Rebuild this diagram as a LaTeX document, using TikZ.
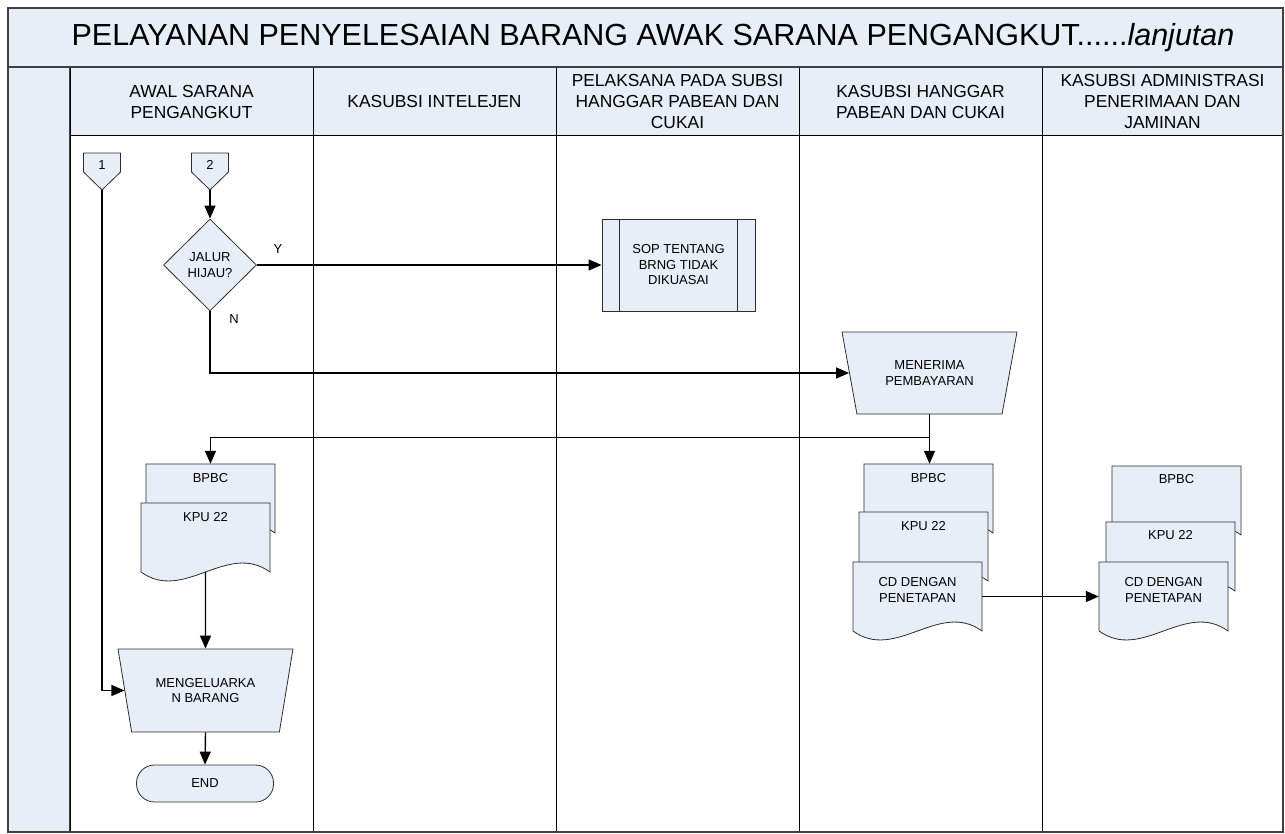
\documentclass[tikz,border=0pt]{standalone}
\usepackage{fontspec}
\setmainfont{Liberation Sans}
\usetikzlibrary{arrows.meta,positioning,shapes.geometric,calc}
\definecolor{SLfill}{RGB}{232,238,247}
\definecolor{SLframe}{RGB}{64,64,64}
\definecolor{SLedge}{RGB}{45,45,45}
\newcommand{\shapefont}{\fontsize{13}{15.5}\selectfont}
\newcommand{\headfont}{\fontsize{17.4}{21}\selectfont}
\newcommand{\titlefont}{\fontsize{30.5}{34}\selectfont}
\tikzset{
  lane/.style={draw=black,line width=0.9pt},
  headcell/.style={draw=black,line width=0.9pt,fill=SLfill},
  headtext/.style={font=\headfont,align=center,inner sep=0pt},
  shapetext/.style={font=\shapefont,align=center,inner sep=0pt},
  decide/.style={diamond,aspect=1,draw=SLedge,line width=0.8pt,fill=SLfill,
                 font=\shapefont,align=center,inner sep=0pt,
                 minimum width=93pt,minimum height=92pt},
  manual/.style={trapezium,trapezium left angle=110.4,trapezium right angle=110.4,
                 trapezium stretches=true,draw=SLedge,line width=0.8pt,fill=SLfill,
                 font=\shapefont,align=center,inner sep=0pt},
  predef/.style={rectangle,draw=SLedge,line width=0.8pt,fill=SLfill,
                 font=\shapefont,align=center,minimum width=153pt,minimum height=92pt},
  terminal/.style={rectangle,rounded corners=18pt,draw=SLedge,line width=0.8pt,
                 fill=SLfill,font=\shapefont,minimum width=137pt,minimum height=37pt},
  offpage/.style={rectangle,inner sep=0pt,font=\shapefont},
  docbody/.style={rectangle,inner sep=0pt,minimum width=129pt,minimum height=69pt},
  docedge/.style={draw=SLedge,line width=0.8pt,fill=SLfill},
  flow/.style={-{Triangle[length=13pt,width=11pt]},line width=1.4pt},
  yn/.style={font=\shapefont,inner sep=0pt}
}
% document sheet: name, left, top, text offset, text
\newcommand{\docsheet}[5]{%
  \filldraw[docedge] (#2,#3) -- (#2+129,#3) -- (#2+129,#3+69)
    .. controls (#2+86,#3+38) and (#2+43,#3+100) .. (#2,#3+69) -- cycle;
  \node[docbody] (#1) at (#2+64.5,#3+34.5) {};
  \node[shapetext] (#1 text) at (#2+64.5,#3+#4) {#5};
}
% off-page connector: name, centre x, text
\newcommand{\offsheet}[3]{%
  \filldraw[docedge] (#2-18.5,153) -- (#2+18.5,153) -- (#2+18.5,172)
    -- (#2,190) -- (#2-18.5,172) -- cycle;
  \node[offpage] (#1) at (#2,165) {#3};
  \coordinate (#1 tip) at (#2,190);
}
\begin{document}
\begin{tikzpicture}[x=1pt,y=-1pt]
  \useasboundingbox (0,0) rectangle (1285,834);
  % frame, title band and lanes
  \filldraw[fill=SLfill,draw=SLframe,line width=2pt] (8,8) rectangle (1283,67);
  \filldraw[fill=SLfill,draw=SLframe,line width=2pt] (8,67) rectangle (70,832);
  \foreach \a/\b in {70/313,313/556,556/799,799/1042,1042/1283} {
    \filldraw[headcell] (\a,67) rectangle (\b,135);
    \draw[lane] (\a,135) -- (\a,832);
  }
  \draw[SLframe,line width=2pt] (8,8) rectangle (1283,832);
  \draw[SLframe,line width=2pt] (8,67) -- (1283,67);
  \node[font=\titlefont,inner sep=0pt] (title) at (653,38)
    {PELAYANAN PENYELESAIAN BARANG AWAK SARANA PENGANGKUT......\textit{lanjutan}};
  \node[headtext] (hAwal) at (191.5,102) {AWAL SARANA\\PENGANGKUT};
  \node[headtext] (hIntel) at (434.5,102) {KASUBSI INTELEJEN};
  \node[headtext] (hPelaksana) at (677.5,102) {PELAKSANA PADA SUBSI\\HANGGAR PABEAN DAN\\CUKAI};
  \node[headtext] (hHanggar) at (920.5,102) {KASUBSI HANGGAR\\PABEAN DAN CUKAI};
  \node[headtext] (hAdmin) at (1162.5,102) {KASUBSI ADMINISTRASI\\PENERIMAAN DAN\\JAMINAN};

  % shapes
  \offsheet{cA}{102}{1}
  \offsheet{cB}{210}{2}
  \node[decide] (dia) at (210,265) {JALUR\\HIJAU?};
  \node[predef] (sop) at (678.5,265) {SOP TENTANG\\BRNG TIDAK\\DIKUASAI};
  \draw[SLedge,line width=0.8pt] ([xshift=18pt]sop.north west) -- ([xshift=18pt]sop.south west);
  \draw[SLedge,line width=0.8pt] ([xshift=-18pt]sop.north east) -- ([xshift=-18pt]sop.south east);
  \node[manual,minimum width=175pt,minimum height=82pt] (men) at (929.5,373) {MENERIMA\\PEMBAYARAN};
  \docsheet{bpbcA}{146}{464}{14}{BPBC}
  \docsheet{kpuA}{141}{503}{14}{KPU 22}
  \node[manual,minimum width=175pt,minimum height=83pt] (kel) at (205.5,690.5) {MENGELUARKA\\N BARANG};
  \node[terminal] (finish) at (205,783.5) {END};
  \docsheet{bpbcD}{864}{464}{14}{BPBC}
  \docsheet{kpuD}{859}{512}{14}{KPU 22}
  \docsheet{cdD}{853}{562}{28}{CD DENGAN\\PENETAPAN}
  \docsheet{bpbcE}{1112}{466}{13}{BPBC}
  \docsheet{kpuE}{1106}{522}{13}{KPU 22}
  \docsheet{cdE}{1099}{562}{28}{CD DENGAN\\PENETAPAN}

  % connectors
  \draw[flow] (cB tip) -- (dia.north);
  \draw[flow] (dia.east) -- (sop.west);
  \node[yn] (lblY) at (278,249) {Y};
  \draw[flow] (dia.south) |- (men.west);
  \node[yn] (lblN) at (234,319) {N};
  \draw[flow] (men.south) -- (men.south |- bpbcD.north);
  \path (men.south) ++(0,23) coordinate (split);
  \draw[flow] (split) -| (bpbcA.north);
  \draw[flow] (kpuA.south) -- (kel.north);
  \draw[flow] (cA tip) |- (kel.west);
  \draw[flow] (kel.south) -- (finish.north);
  \draw[flow] (cdD.east) -- (cdE.west);
\end{tikzpicture}
\end{document}
